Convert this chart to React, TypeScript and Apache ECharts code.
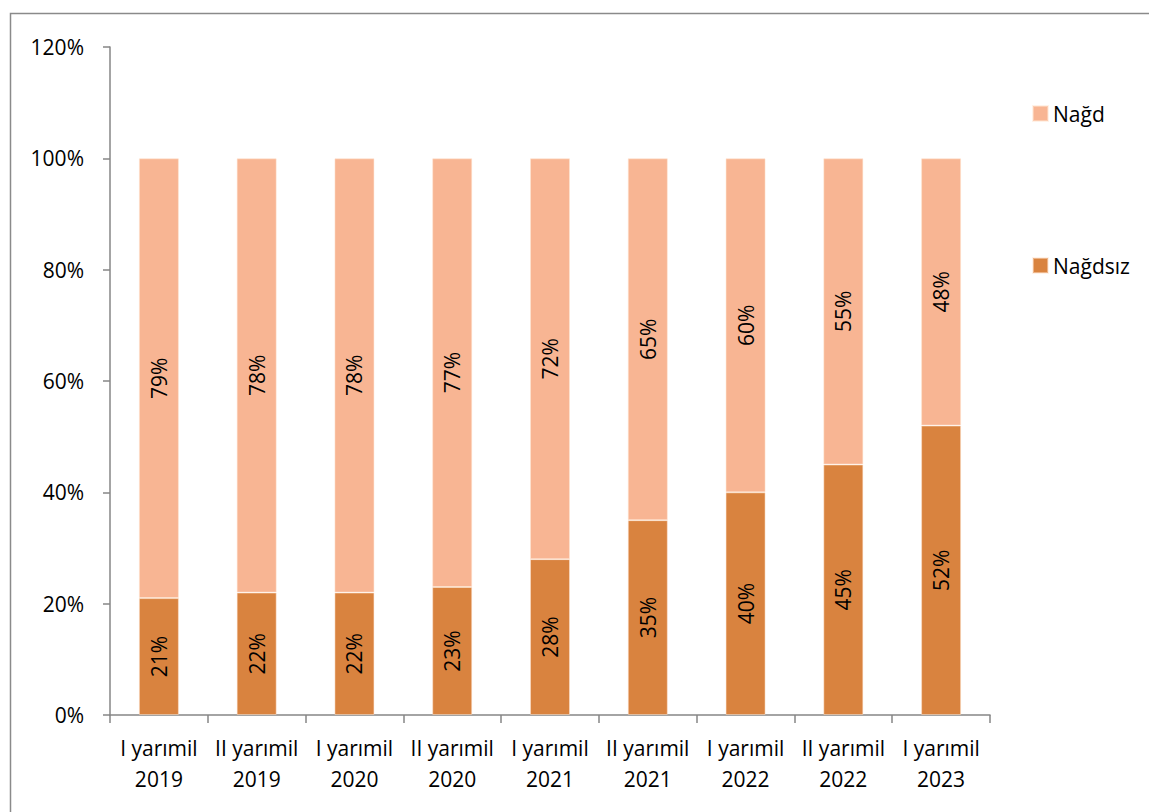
import React, { useEffect, useRef } from "react";
import * as echarts from "echarts";

const categories = [
  "I yarımil\n2019",
  "II yarımil\n2019",
  "I yarımil\n2020",
  "II yarımil\n2020",
  "I yarımil\n2021",
  "II yarımil\n2021",
  "I yarımil\n2022",
  "II yarımil\n2022",
  "I yarımil\n2023",
];
const nagdsiz = [21, 22, 22, 23, 28, 35, 40, 45, 52];
const nagd = [79, 78, 78, 77, 72, 65, 60, 55, 48];

const FONT = "Open Sans";
const FS = 21;

export default function App() {
  const ref = useRef<HTMLDivElement>(null);
  useEffect(() => {
    const chart = echarts.init(ref.current!, null, { renderer: "svg" });
    const label = {
      show: true,
      position: "inside",
      rotate: 90,
      formatter: "{c}%",
      color: "#000",
      fontFamily: FONT,
      fontSize: FS,
    };
    chart.setOption({
      animation: false,
      backgroundColor: "#fff",
      textStyle: { fontFamily: FONT },
      graphic: [
        {
          type: "rect",
          left: 8,
          top: 11,
          shape: { width: 1160, height: 820 },
          style: { fill: "none", stroke: "#8a8a8a", lineWidth: 1.5 },
          silent: true,
        },
      ],
      legend: {
        orient: "vertical",
        left: 1027,
        top: 98,
        itemGap: 131,
        itemWidth: 15,
        itemHeight: 15,
        icon: "rect",
        textStyle: { fontFamily: FONT, fontSize: FS, color: "#000" },
        data: ["Nağd", "Nağdsız"],
      },
      grid: { left: 110, right: 159, top: 47, bottom: 97, containLabel: false },
      xAxis: {
        type: "category",
        data: categories,
        axisLine: { lineStyle: { color: "#868686", width: 1.5 } },
        axisTick: { show: true, length: 8, lineStyle: { color: "#868686", width: 1.5 } },
        axisLabel: {
          color: "#000",
          fontFamily: FONT,
          fontSize: FS,
          lineHeight: 31,
          margin: 17,
          interval: 0,
        },
      },
      yAxis: {
        type: "value",
        min: 0,
        max: 120,
        interval: 20,
        axisLine: { show: true, lineStyle: { color: "#868686", width: 1.5 } },
        axisTick: { show: true, length: 7, lineStyle: { color: "#868686", width: 1.5 } },
        splitLine: { show: false },
        axisLabel: {
          formatter: "{value}%",
          color: "#000",
          fontFamily: FONT,
          fontSize: FS,
          margin: 26,
        },
      },
      series: [
        {
          name: "Nağdsız",
          type: "bar",
          stack: "total",
          data: nagdsiz,
          barWidth: 40,
          itemStyle: { color: "#D9833F", borderColor: "rgba(255,230,210,0.5)", borderWidth: 1 },
          label,
        },
        {
          name: "Nağd",
          type: "bar",
          stack: "total",
          data: nagd,
          barWidth: 40,
          itemStyle: { color: "#F8B593", borderColor: "rgba(255,230,210,0.5)", borderWidth: 1 },
          label,
        },
      ],
    });
    return () => chart.dispose();
  }, []);
  return <div ref={ref} style={{ width: 1149, height: 812, position: "absolute", left: 0, top: 0 }} />;
}
